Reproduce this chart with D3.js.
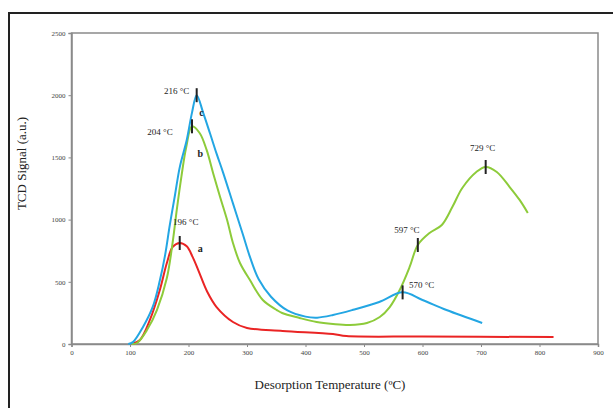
<!DOCTYPE html>
<html>
<head>
<meta charset="utf-8">
<script src="https://cdn.jsdelivr.net/npm/d3@7"></script>
<style>
  body { margin: 0; background: #fff; }
  text { font-family: "Liberation Serif", "Times New Roman", serif; fill: #222; }
</style>
</head>
<body>
<div id="tpd-chart"></div>
<script>
// TPD curves (temperature in C, signal in a.u.)
const tempA = [103, 117, 134, 151, 163, 173, 185, 197, 207, 217, 232, 248, 276, 300, 361, 447, 470, 600, 824];
const signalA = [0, 32, 193, 434, 651, 780, 812, 785, 700, 590, 420, 297, 177, 129, 105, 80, 64, 60, 56];

const tempB = [103, 112, 129, 146, 163, 173, 180, 188, 196, 206, 219, 231, 242, 254, 266, 276, 288, 305, 327, 351, 360, 390, 419, 447, 476, 505, 527, 544, 561, 578, 592, 612, 633, 651, 668, 692, 708, 727, 749, 766, 780];
const signalB = [0, 8, 112, 273, 530, 820, 1080, 1350, 1580, 1750, 1696, 1560, 1375, 1182, 997, 812, 651, 514, 354, 273, 249, 209, 177, 161, 153, 169, 217, 297, 434, 619, 796, 892, 957, 1101, 1254, 1383, 1423, 1383, 1262, 1158, 1053];

const tempC = [97, 105, 122, 139, 151, 160, 168, 177, 185, 197, 206, 214, 225, 237, 248, 259, 276, 293, 305, 320, 341, 369, 400, 420, 447, 480, 526, 566, 600, 641, 702];
const signalC = [0, 15, 135, 300, 510, 715, 955, 1200, 1420, 1640, 1860, 2000, 1860, 1690, 1530, 1380, 1130, 880, 700, 520, 380, 270, 220, 212, 233, 273, 338, 415, 354, 273, 169];

// peak markers: [temp, signal, label, label dx, label dy]
const peaks = [
  [185, 812, "196 \u00B0C", 6, -18],
  [206, 1750, "204 \u00B0C", -32, 9],
  [214, 2000, "216 \u00B0C", -20, -1],
  [566, 415, "570 \u00B0C", 19, -4],
  [592, 796, "597 \u00B0C", -11, -12],
  [708, 1423, "729 \u00B0C", -3, -16]
];
// curve letters: [temp, signal, letter]
const letters = [[220, 740, "a"], [220, 1500, "b"], [222, 1830, "c"]];

const xTicks = [0, 100, 200, 300, 400, 500, 600, 700, 800, 900];
const yTicks = [0, 500, 1000, 1500, 2000, 2500];

const margin = { top: 33, right: 15, bottom: 64, left: 71.5 };
const width = 613 - margin.left - margin.right;
const height = 408 - margin.top - margin.bottom;

const root = d3.select("#tpd-chart")
  .append("svg")
  .attr("width", 613)
  .attr("height", 408);

// outer frame, runs off the right and bottom edges
root.append("rect")
  .attr("x", 9).attr("y", 13)
  .attr("width", 640).attr("height", 420)
  .attr("fill", "none")
  .attr("stroke", "#222")
  .attr("stroke-width", 2);

const svg = root.append("g")
  .attr("transform", `translate(${margin.left},${margin.top})`);

const x = d3.scaleLinear().domain([0, 900]).range([0, width]);
const y = d3.scaleLinear().domain([0, 2500]).range([height, 0]);

// plot area border
svg.append("rect")
  .attr("width", width).attr("height", height)
  .attr("fill", "none")
  .attr("stroke", "#8a8a8a")
  .attr("stroke-width", 1.5);

const xAxis = svg.append("g")
  .attr("transform", `translate(0,${height})`)
  .call(d3.axisBottom(x).tickValues(xTicks).tickFormat(d3.format("d")).tickSize(3).tickPadding(3));
const yAxis = svg.append("g")
  .call(d3.axisLeft(y).tickValues(yTicks).tickFormat(d3.format("d")).tickSize(3).tickPadding(3));

[xAxis, yAxis].forEach(a => {
  a.attr("font-family", "Liberation Serif");
  a.select(".domain").attr("stroke", "#8a8a8a").attr("stroke-width", 1.5);
  a.selectAll(".tick line").attr("stroke", "#8a8a8a");
  a.selectAll(".tick text")
    .attr("font-size", "7px")
    .style("fill", "#444");
});

// Axis labels
svg.append("text")
  .attr("x", -height / 2 + 25)
  .attr("y", -46)
  .attr("text-anchor", "middle")
  .attr("transform", "rotate(-90)")
  .attr("font-size", "13px")
  .text("TCD Signal (a.u.)");

svg.append("text")
  .attr("x", 330 - margin.left)
  .attr("y", height + 45)
  .attr("text-anchor", "middle")
  .attr("font-size", "13px")
  .text("Desorption Temperature (\u00BAC)");

const line = d3.line()
  .x(d => x(d[0]))
  .y(d => y(d[1]))
  .curve(d3.curveCatmullRom.alpha(0.5));

const series = [
  [tempA, signalA, "#ea2424"],
  [tempB, signalB, "#8dcb3a"],
  [tempC, signalC, "#23a6e3"]
];
series.forEach(([t, s, color]) => {
  svg.append("path")
    .datum(t.map((v, i) => [v, s[i]]))
    .attr("fill", "none")
    .attr("stroke", color)
    .attr("stroke-width", 2)
    .attr("d", line);
});

// peak markers and labels
peaks.forEach(([t, s, label, dx, dy]) => {
  svg.append("line")
    .attr("x1", x(t)).attr("x2", x(t))
    .attr("y1", y(s) - 7).attr("y2", y(s) + 7)
    .attr("stroke", "#222")
    .attr("stroke-width", 2);
  svg.append("text")
    .attr("x", x(t) + dx)
    .attr("y", y(s) + dy)
    .attr("text-anchor", "middle")
    .attr("font-size", "9px")
    .text(label);
});

letters.forEach(([t, s, letter]) => {
  svg.append("text")
    .attr("x", x(t))
    .attr("y", y(s))
    .attr("text-anchor", "middle")
    .attr("font-size", "10px")
    .attr("font-weight", "bold")
    .text(letter);
});
</script>
</body>
</html>
